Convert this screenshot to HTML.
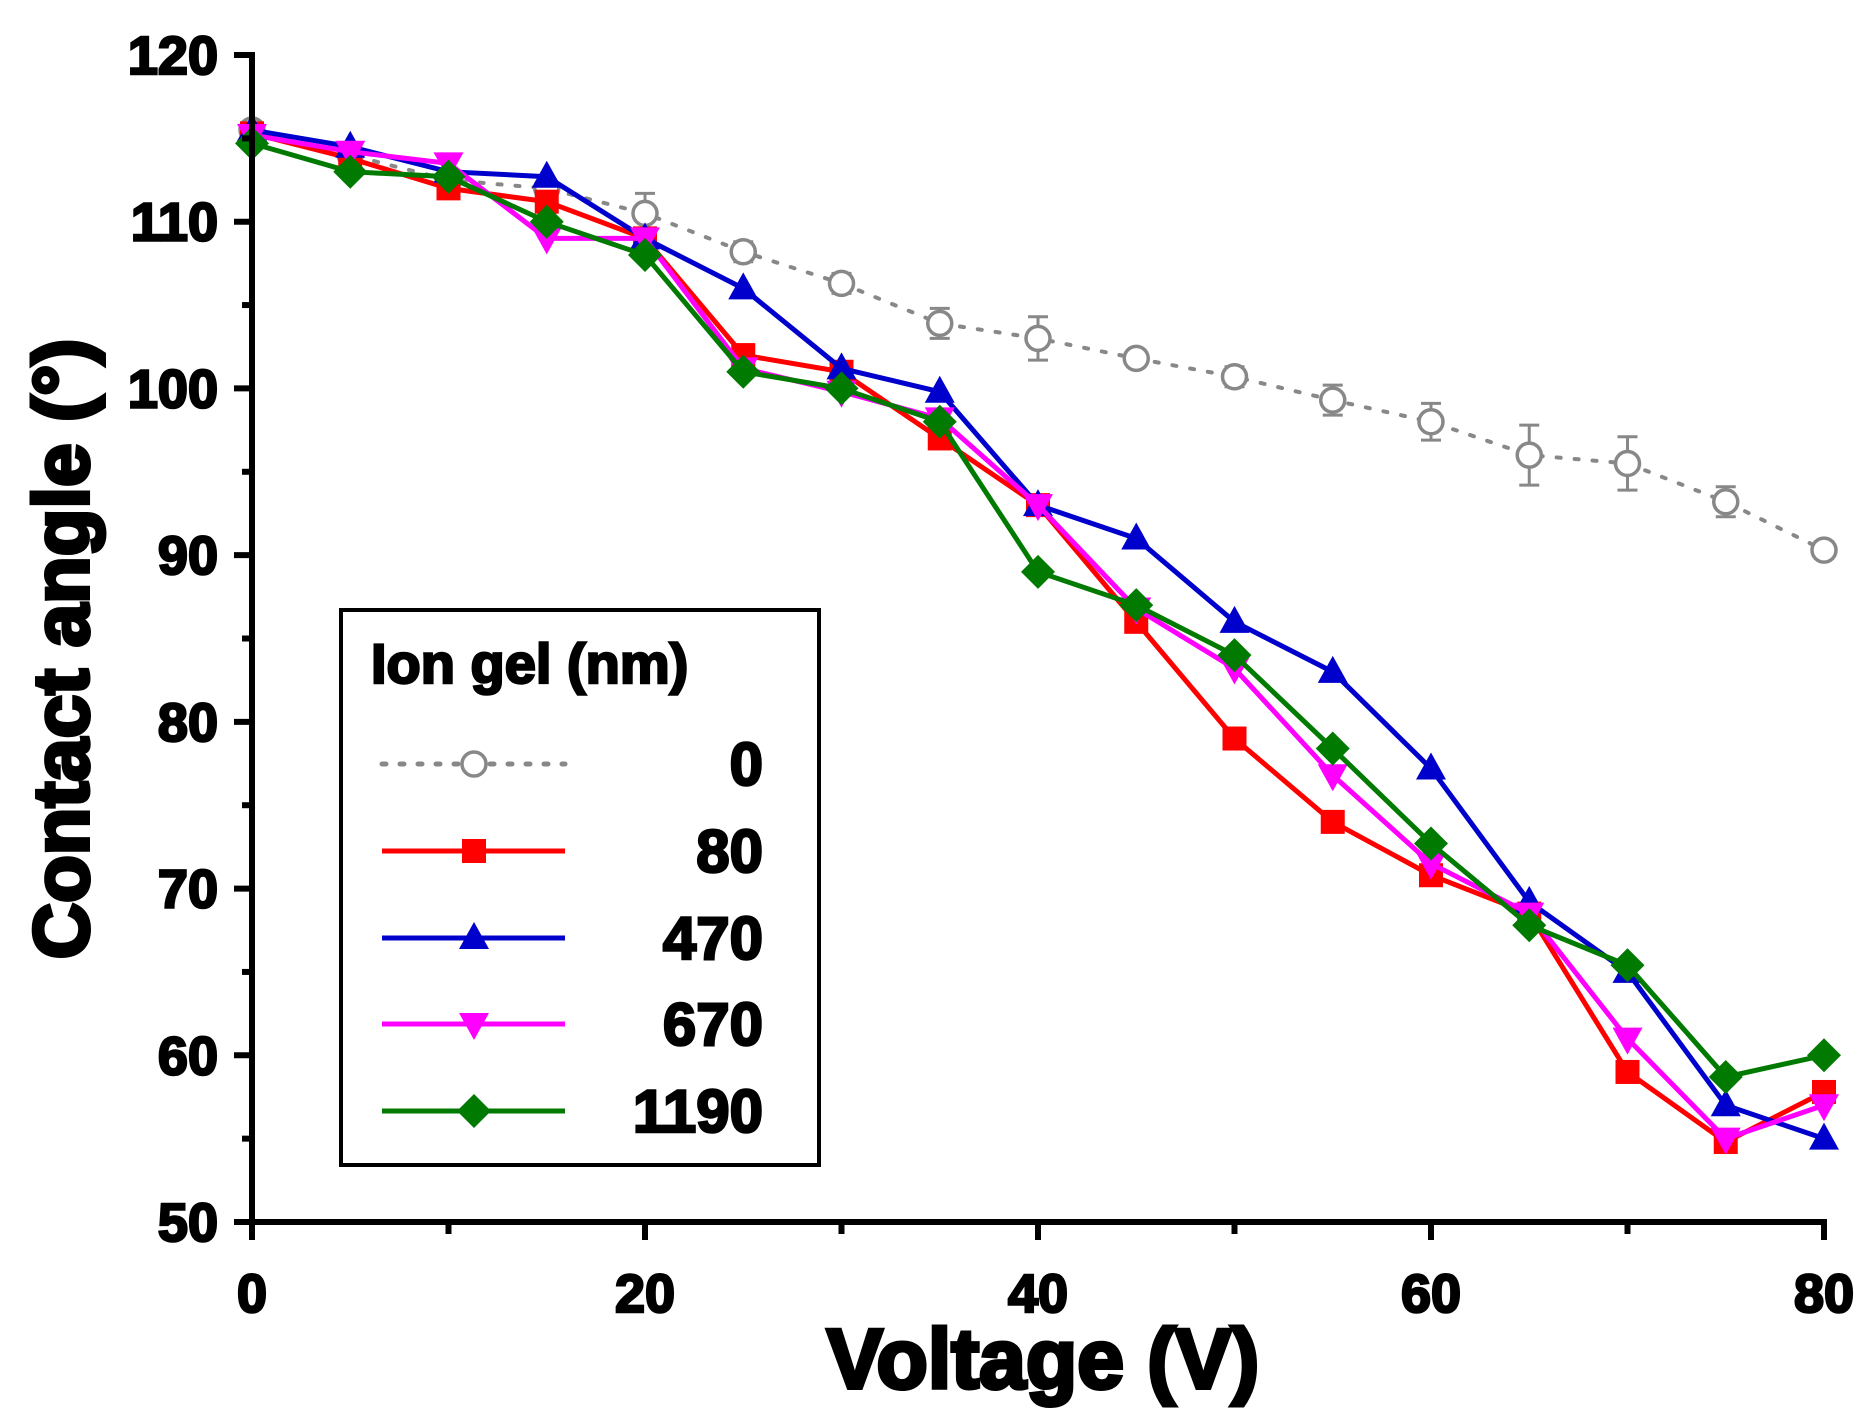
<!DOCTYPE html>
<html><head><meta charset="utf-8"><style>body{margin:0;background:#fff}svg{display:block}</style></head>
<body>
<svg id="s" width="1874" height="1425" xmlns="http://www.w3.org/2000/svg" font-family="Liberation Sans, Arial, sans-serif" font-weight="bold"></svg>
<script>
const s=document.getElementById('s');
const X=v=>252+v*(1824-252)/80, Y=v=>1222-(v-50)*(1222-55)/70;
let h='';
const xs=[0,5,10,15,20,25,30,35,40,45,50,55,60,65,70,75,80];
const series=[
 {c:'#888',d:[115.5,114,112.5,112,110.5,108.2,106.3,103.9,103,101.8,100.7,99.3,98,96,95.5,93.2,90.3],m:'o',dash:true},
 {c:'#f00',d:[115.3,113.8,112,111.2,109,102,101,97,93,86,79,74,70.8,68.5,59,54.8,57.8],m:'s'},
 {c:'#00c',d:[115.5,114.5,113,112.7,109,106,101.2,99.8,93,91,86,83,77.2,69.2,65,57,55],m:'t'},
 {c:'#f0f',d:[115.2,114.2,113.5,109,109,101.2,99.8,98.2,93,86.8,83.2,76.8,71.5,68.5,61,55,57],m:'v'},
 {c:'#007a00',d:[114.7,113,112.7,110,108,101,100,98,89,87,84,78.4,72.7,67.8,65.4,58.7,60],m:'d'}
];
function mk(m,x,y,c){
 if(m=='o')return `<circle cx="${x}" cy="${y}" r="12" fill="#fff" stroke="${c}" stroke-width="3.5"/>`;
 if(m=='s')return `<rect x="${x-12}" y="${y-12}" width="24" height="24" fill="${c}"/>`;
 if(m=='t')return `<polygon points="${x},${y-16} ${x-15},${y+11} ${x+15},${y+11}" fill="${c}"/>`;
 if(m=='v')return `<polygon points="${x},${y+16} ${x-15},${y-11} ${x+15},${y-11}" fill="${c}"/>`;
 if(m=='d')return `<polygon points="${x},${y-17} ${x+17},${y} ${x},${y+17} ${x-17},${y}" fill="${c}"/>`;
}
const err=[0.5,0.5,0.5,0.5,1.2,0.6,0.6,0.9,1.3,0.5,0.6,0.9,1.1,1.8,1.6,0.9,0.5];
series.forEach(S=>{
 const pts=xs.map((v,j)=>X(v)+','+Y(S.d[j])).join(' ');
 h+=`<polyline points="${pts}" fill="none" stroke="${S.c}" stroke-width="${S.dash?4:5}" ${S.dash?'stroke-dasharray="4 14" stroke-linecap="round"':''}/>`;
 if(S.dash)xs.forEach((v,j)=>{const x=X(v),y1=Y(S.d[j]+err[j]),y2=Y(S.d[j]-err[j]);h+=`<path d="M${x},${y1}V${y2}M${x-10},${y1}H${x+10}M${x-10},${y2}H${x+10}" stroke="#888" stroke-width="3"/>`;});
 xs.forEach((v,j)=>h+=mk(S.m,X(v),Y(S.d[j]),S.c));
});
h+=`<path d="M252,52V1222H1824V1238" fill="none" stroke="#000" stroke-width="6"/>`;
const T='stroke="#000" stroke-width="2.5"';
for(let v=50;v<=120;v+=5){const y=Y(v);h+=`<line x1="${v%10?242:234}" x2="252" y1="${y}" y2="${y}" stroke="#000" stroke-width="6"/>`;
 if(v%10==0)h+=`<text x="218" y="${y+19}" font-size="54" text-anchor="end" ${T}>${v}</text>`;}
for(let v=0;v<=80;v+=10){const x=X(v);h+=`<line x1="${x}" x2="${x}" y1="1222" y2="${v%20?1234:1240}" stroke="#000" stroke-width="6"/>`;
 if(v%20==0)h+=`<text x="${x}" y="1312" font-size="54" text-anchor="middle" ${T}>${v}</text>`;}
h+=`<text x="1043" y="1388" font-size="84" text-anchor="middle" stroke="#000" stroke-width="4">Voltage (V)</text>`;
h+=`<text transform="translate(88,649) rotate(-90)" font-size="78" text-anchor="middle" stroke="#000" stroke-width="4">Contact angle (°)</text>`;
h+=`<rect x="341" y="610" width="478" height="555" fill="#fff" stroke="#000" stroke-width="4"/>`;
h+=`<text x="371" y="683" font-size="56" ${T}>Ion gel (nm)</text>`;
const ly=[764,851,938,1024,1111],lab=['0','80','470','670','1190'];
series.forEach((S,i)=>{const y=ly[i];
 h+=`<line x1="382" x2="565" y1="${y}" y2="${y}" stroke="${S.c}" stroke-width="5" ${S.dash?'stroke-dasharray="4 14" stroke-linecap="round"':''}/>`;
 h+=mk(S.m,474,y,S.c);
 h+=`<text x="763" y="${y+21}" font-size="60" text-anchor="end" ${T}>${lab[i]}</text>`;});
s.innerHTML=h;
</script>
</body></html>
